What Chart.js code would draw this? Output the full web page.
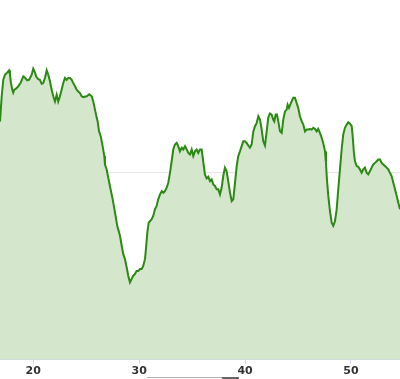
<!DOCTYPE html>
<html>
<head>
<meta charset="utf-8">
<script src="https://cdn.jsdelivr.net/npm/chart.js@4/dist/chart.umd.min.js"></script>
<style>
  html, body { margin: 0; padding: 0; background: #ffffff; }
  #wrap { position: relative; width: 400px; height: 379px; overflow: hidden; }
  #c { display: block; }
  #scroll { position: absolute; left: 147px; top: 377px; width: 92px; height: 2px; border-top: 1px solid #b0b0b0; }
  #thumb { position: absolute; left: 75px; top: -1px; width: 17px; height: 2px; background: #666; }
</style>
</head>
<body>
<div id="wrap">
  <canvas id="c" width="400" height="379"></canvas>
  <div id="scroll"><div id="thumb"></div></div>
</div>
<script>
const distances = [16.86,17.02,17.17,17.33,17.55,17.71,17.80,17.89,18.02,18.11,18.21,18.37,18.58,18.81,19.06,19.22,19.43,19.62,19.85,20.00,
20.16,20.26,20.47,20.63,20.79,20.94,21.11,21.27,21.42,21.58,21.74,21.89,22.05,22.21,22.36,22.52,22.68,22.83,22.99,23.15,
23.31,23.47,23.63,23.78,23.94,24.10,24.25,24.41,24.57,24.72,25.04,25.29,25.52,25.67,25.83,25.99,26.08,26.21,26.37,26.55,
26.71,26.77,26.93,27.08,27.24,27.50,27.72,27.93,28.19,28.35,28.50,28.66,28.82,28.97,29.13,29.29,29.44,29.60,29.76,29.92,
30.08,30.24,30.39,30.55,30.64,30.77,30.90,31.02,31.18,31.33,31.49,31.65,31.80,31.97,32.13,32.28,32.44,32.60,32.75,32.91,
33.07,33.22,33.38,33.54,33.69,33.85,34.01,34.17,34.33,34.49,34.64,34.80,34.96,35.11,35.27,35.43,35.58,35.74,35.90,36.05,
36.21,36.37,36.53,36.69,36.85,37.00,37.16,37.32,37.47,37.63,37.79,37.94,38.10,38.26,38.41,38.58,38.74,38.89,39.05,39.21,
39.36,39.52,39.68,39.83,39.99,40.15,40.30,40.46,40.62,40.78,40.94,41.10,41.25,41.41,41.57,41.72,41.88,42.04,42.19,42.35,
42.51,42.66,42.76,42.89,43.01,43.14,43.30,43.46,43.61,43.77,43.93,44.02,44.15,44.27,44.40,44.55,44.71,44.87,45.02,45.18,
45.35,45.50,45.66,45.82,45.97,46.13,46.29,46.44,46.60,46.76,46.91,47.07,47.23,47.38,47.55,47.64,47.73,47.86,48.02,48.18,
48.33,48.49,48.65,48.80,48.96,49.12,49.27,49.43,49.60,49.75,49.91,50.07,50.16,50.28,50.38,50.54,50.69,50.85,51.01,51.16,
51.32,51.48,51.63,51.79,51.95,52.11,52.27,52.43,52.58,52.74,52.90,53.05,53.21,53.37,53.52,53.68,53.84,54.00,54.16,54.32,
54.47,54.63];
const elevations = [1255,1382,1465,1490,1502,1512,1490,1450,1415,1400,1415,1420,1432,1450,1482,1475,1462,1465,1490,1520,
1502,1482,1468,1465,1445,1448,1475,1512,1490,1456,1415,1382,1356,1390,1356,1382,1415,1448,1474,1464,
1474,1474,1465,1448,1432,1415,1406,1398,1382,1378,1382,1392,1382,1356,1315,1275,1256,1206,1182,1132,
1082,1040,1015,974,932,865,798,732,682,632,590,565,524,482,448,465,482,490,506,506,
515,515,532,565,615,698,748,755,765,782,815,832,865,890,906,898,906,924,948,998,
1056,1115,1140,1148,1132,1106,1124,1115,1132,1115,1098,1090,1115,1082,1106,1115,1098,1115,1115,1055,
990,970,978,956,965,940,932,915,915,890,924,982,1024,1006,956,898,856,865,948,1032,
1082,1106,1132,1156,1156,1148,1135,1124,1140,1206,1232,1248,1282,1265,1215,1156,1135,1206,1275,1296,
1290,1265,1256,1290,1290,1256,1206,1198,1265,1306,1315,1340,1324,1340,1356,1374,1374,1348,1324,1282,
1256,1240,1206,1215,1215,1218,1215,1224,1218,1206,1218,1198,1174,1148,1106,1048,965,882,805,748,
732,755,815,915,1015,1115,1190,1224,1240,1252,1245,1232,1182,1098,1056,1032,1028,1015,998,1015,
1024,998,990,1006,1024,1040,1048,1056,1065,1065,1048,1040,1032,1024,1015,998,982,948,915,882,
848,815];
const xTicks = [20, 30, 40, 50];
const yGridValues = [1000];
const xRange = [16.86, 54.63];
const yRange = [60, 1865];

const points = distances.map((d, i) => ({ x: d, y: elevations[i] }));

new Chart(document.getElementById('c'), {
  type: 'line',
  data: {
    datasets: [{
      data: points,
      borderColor: '#2a8a12',
      borderWidth: 2,
      backgroundColor: '#d4e6cc',
      fill: 'start',
      pointRadius: 0,
      tension: 0
    }]
  },
  options: {
    responsive: false,
    animation: false,
    layout: { padding: 0 },
    plugins: { legend: { display: false }, tooltip: { enabled: false } },
    scales: {
      x: {
        type: 'linear',
        min: xRange[0],
        max: xRange[1],
        afterBuildTicks: (s) => { s.ticks = xTicks.map(v => ({ value: v })); },
        grid: { drawOnChartArea: false, drawTicks: true, tickLength: 4, color: '#ccd6eb' },
        border: { display: true, color: '#ccd6eb', width: 1 },
        ticks: {
          padding: 1,
          color: '#333333',
          font: { family: 'DejaVu Sans', size: 11, weight: 'bold' },
          maxRotation: 0,
          callback: (v) => String(v)
        }
      },
      y: {
        type: 'linear',
        min: yRange[0],
        max: yRange[1],
        afterBuildTicks: (s) => { s.ticks = yGridValues.map(v => ({ value: v })); },
        grid: { color: '#e6e6e6', drawTicks: false },
        border: { display: false },
        ticks: { display: false }
      }
    }
  }
});
</script>
</body>
</html>
